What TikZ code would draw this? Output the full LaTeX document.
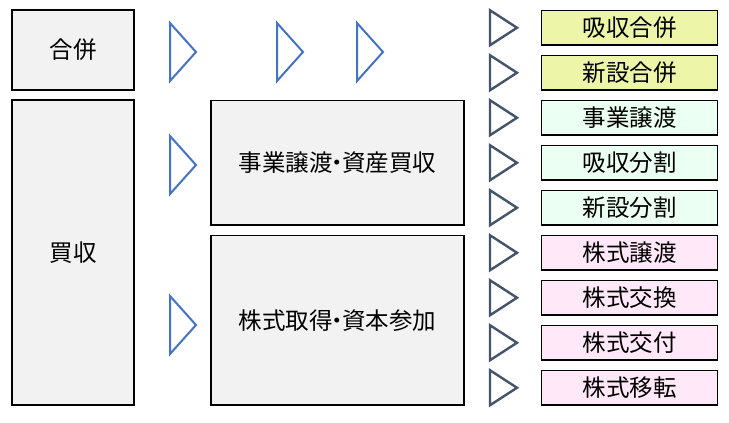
\documentclass[tikz,border=0pt]{standalone}
\usepackage{fontspec}
\setmainfont{Noto Sans CJK JP}
\begin{document}
\begin{tikzpicture}[x=1pt,y=-1pt,
  box/.style={draw=black,line width=1.1pt,fill=boxgray,inner sep=0pt,font=\fontsize{23.5}{26}\selectfont},
  rbox/.style={box,minimum width=176pt,minimum height=34.5pt},
  btri/.pic={\draw[draw=triblue,line width=2pt,line join=miter] (0,-29) -- (26,0) -- (0,29) -- cycle;},
  dtri/.pic={\draw[draw=tridark,line width=2.4pt,line join=miter] (0,-17.5) -- (27,0) -- (0,17.5) -- cycle;}
]
\definecolor{boxgray}{RGB}{242,242,242}
\definecolor{triblue}{RGB}{68,114,196}
\definecolor{tridark}{RGB}{68,84,106}
\definecolor{cyellow}{RGB}{237,245,168}
\definecolor{cmint}{RGB}{235,255,242}
\definecolor{cpink}{RGB}{255,232,248}
\useasboundingbox (0,0) rectangle (729,423);
\fill[white] (0,0) rectangle (729,423);
% left boxes
\node[box,minimum width=122pt,minimum height=80pt] (gappei) at (73,50) {合併};
\node[box,minimum width=122pt,minimum height=305pt] (baishu) at (73,252.5) {買収};
% middle boxes
\node[box,minimum width=253pt,minimum height=124.5pt] (jigyo) at (337.5,162.75) {事業譲渡\kern-0.3em・\kern-0.3em資産買収};
\node[box,minimum width=253pt,minimum height=169.5pt] (kabu) at (337.5,320.25) {株式取得\kern-0.3em・\kern-0.3em資本参加};
% blue triangles
\pic at (170,52) {btri};
\pic at (277,52) {btri};
\pic at (357,52) {btri};
\pic at (170,165) {btri};
\pic at (170,325) {btri};
% right column
\foreach \i/\t/\c in {0/吸収合併/cyellow,1/新設合併/cyellow,2/事業譲渡/cmint,3/吸収分割/cmint,4/新設分割/cmint,5/株式譲渡/cpink,6/株式交換/cpink,7/株式交付/cpink,8/株式移転/cpink}{
  \node[rbox,fill=\c] (r\i) at (629.5,{27.75+45*\i}) {\t};
  \pic at (490,{27.75+45*\i}) {dtri};
}
\end{tikzpicture}
\end{document}
